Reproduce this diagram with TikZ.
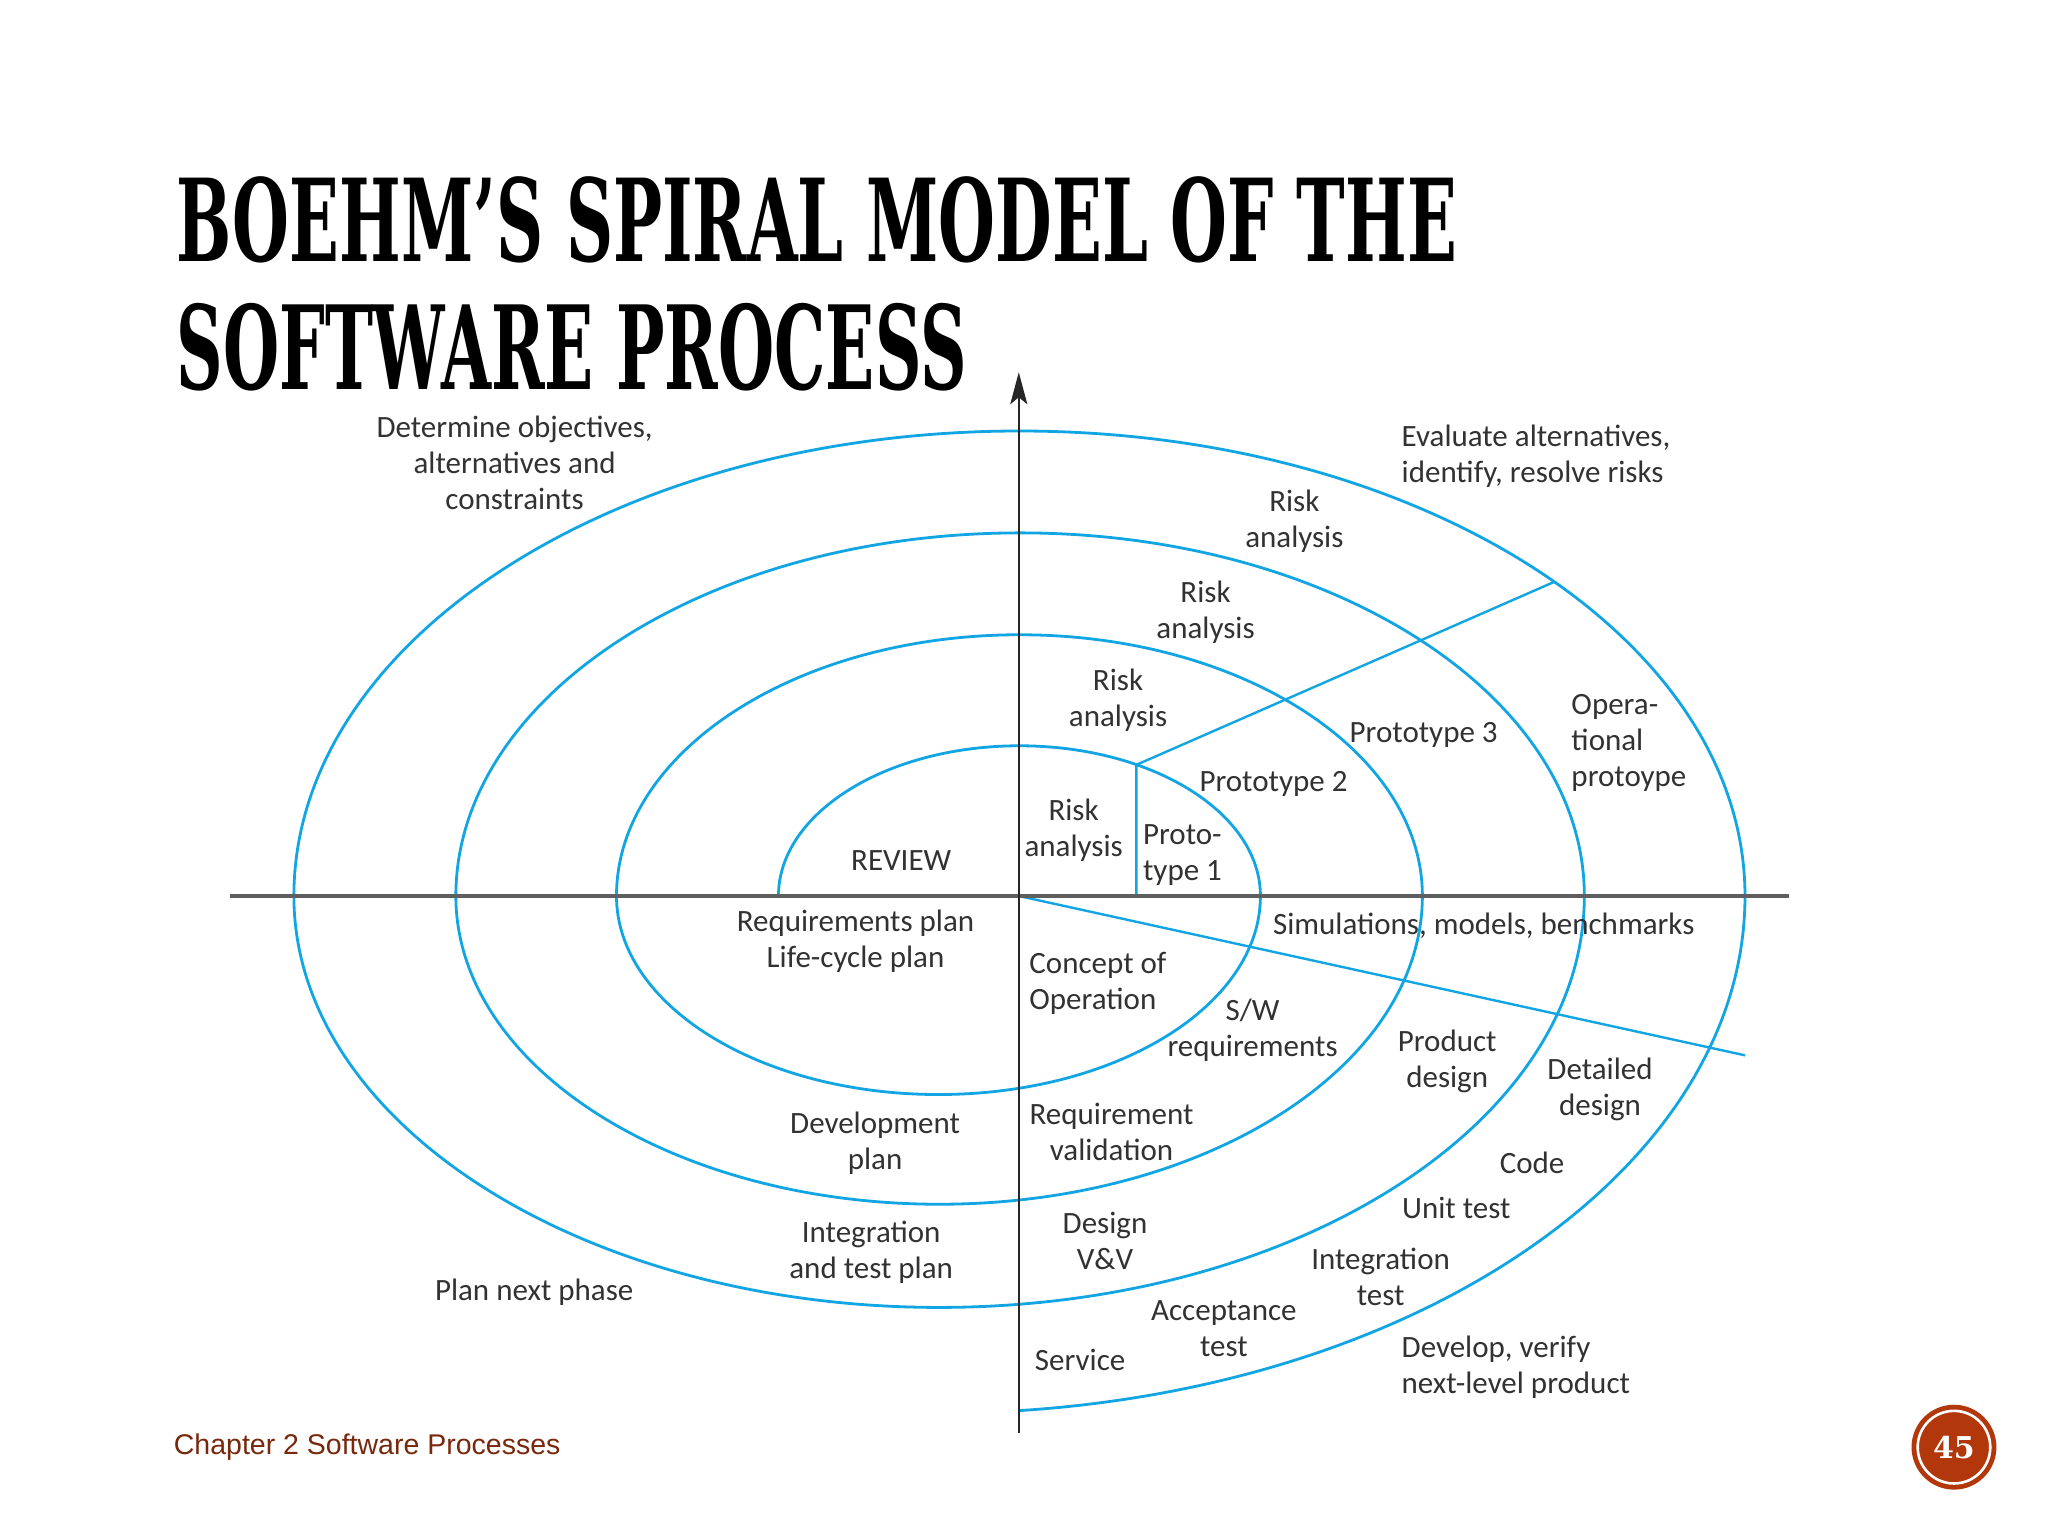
\documentclass[tikz,border=0pt]{standalone}
\usepackage{fontspec}
\usepackage{graphicx}
\setmainfont{Carlito}
\newfontfamily\titlefont{DejaVu Serif}
\newfontfamily\footfont{Liberation Sans}
\usetikzlibrary{arrows.meta}
\definecolor{spiralblue}{RGB}{18,165,228}
\definecolor{labelgray}{RGB}{50,50,50}
\definecolor{axisgray}{RGB}{95,95,95}
\definecolor{footbrown}{RGB}{120,40,12}
\definecolor{badgered}{RGB}{178,56,12}
\newdimen\uu \uu=1.3061pt
\begin{document}
\begin{tikzpicture}[x=1.3061pt,y=1.3061pt,
  lbl/.style={font=\fontsize{31}{36}\selectfont, text=labelgray, align=center, inner sep=0pt},
  lbll/.style={lbl, align=left, anchor=west},
  spiral/.style={draw=spiralblue, line width=2.8pt},
  bluel/.style={draw=spiralblue, line width=2.4pt},
  haxis/.style={draw=axisgray, line width=4.2pt},
  vaxis/.style={draw=black!85, line width=2.5pt, -{Stealth[length=32pt,width=17pt,inset=7pt]}},
  titlestyle/.style={anchor=base west, inner sep=0pt, text=black}]
\fill[white] (0,0) rectangle (1568,1176);
\useasboundingbox (0,0) rectangle (1568,1176);

% title
\node[titlestyle] (t1) at (135,976) {\resizebox{980\uu}{65\uu}{\titlefont\bfseries BOEHM’S SPIRAL MODEL OF THE}};
\node[titlestyle] (t2) at (135,878) {\resizebox{605\uu}{66\uu}{\titlefont\bfseries SOFTWARE PROCESS}};

% spiral
\draw[spiral] (596,490) arc[start angle=180,end angle=0,x radius=184.5,y radius=115]
  arc[start angle=0,end angle=-180,x radius=246.5,y radius=152]
  arc[start angle=180,end angle=0,x radius=308.5,y radius=200]
  arc[start angle=0,end angle=-180,x radius=370,y radius=236]
  arc[start angle=180,end angle=0,x radius=432,y radius=278]
  arc[start angle=0,end angle=-180,x radius=494,y radius=315]
  arc[start angle=180,end angle=0,x radius=555.5,y radius=356]
  arc[start angle=0,end angle=-84.3,x radius=617,y radius=396];

% coordinates
\coordinate (O) at (780,490);
\coordinate (P1b) at (870,490);
\coordinate (P1t) at (870,590.4);
\coordinate (D1) at (1190,730.5);
\coordinate (D2) at (1336,368);
\coordinate (HL) at (176,490);
\coordinate (HR) at (1370,490);
\coordinate (VB) at (780,79);
\coordinate (VT) at (780,891);

% blue dividers
\draw[bluel] (P1b) -- (P1t) -- (D1);
\draw[bluel] (O) -- (D2);

% axes
\draw[haxis] (HL) -- (HR);
\draw[vaxis] (VB) -- (VT);

% labels
\node[lbl] (detobj) at (394,821.5) {Determine objectives,\\alternatives and\\constraints};
\node[lbll] (evalalt) at (1073,826.5) {Evaluate alternatives,\\identify, resolve risks};
\node[lbl] (ra4) at (991,777) {Risk\\analysis};
\node[lbl] (ra3) at (923,707.5) {Risk\\analysis};
\node[lbl] (ra2) at (856,639.5) {Risk\\analysis};
\node[lbl] (ra1) at (822,540) {Risk\\analysis};
\node[lbll] (proto1) at (875,521.5) {Proto-\\type 1};
\node[lbl] (proto2) at (975,576) {Prototype 2};
\node[lbl] (proto3) at (1090,613) {Prototype 3};
\node[lbll] (opproto) at (1203,607.5) {Opera-\\tional\\protoype};
\node[lbl] (review) at (690,517) {REVIEW};
\node[lbl] (reqplan) at (655,455) {Requirements plan\\Life-cycle plan};
\node[lbll] (concept) at (788,423) {Concept of\\Operation};
\node[lbl] (swreq) at (959,387) {S/W\\requirements};
\node[lbl] (sims) at (1136,467) {Simulations, models, benchmarks};
\node[lbl] (proddes) at (1108,363) {Product\\design};
\node[lbl] (detdes) at (1225,342) {Detailed\\design};
\node[lbl] (devplan) at (670,300.5) {Development\\plan};
\node[lbl] (reqval) at (851,309) {Requirement\\validation};
\node[lbl] (code) at (1173,286) {Code};
\node[lbl] (unittest) at (1115,251) {Unit test};
\node[lbl] (inttestplan) at (667,217) {Integration\\and test plan};
\node[lbl] (designvv) at (846,226) {Design\\V\&V};
\node[lbl] (inttest) at (1057,198) {Integration\\test};
\node[lbl] (plannext) at (409,187) {Plan next phase};
\node[lbl] (acctest) at (937,158.5) {Acceptance\\test};
\node[lbl] (service) at (827,135) {Service};
\node[lbll] (develop) at (1073,129) {Develop, verify\\next-level product};

% footer
\node[anchor=west, inner sep=0pt, text=footbrown, font=\footfont\fontsize{28.5}{30}\selectfont] (foot) at (133,68) {Chapter 2 Software Processes};
\node[circle, fill=badgered, minimum size=65\uu, inner sep=0pt] (badge) at (1496,68) {};
\draw[white, line width=2.6pt] (badge.center) circle[radius=27.8];
\node[text=white, inner sep=0pt, font=\titlefont\bfseries\fontsize{30}{30}\selectfont] (pnum) at (badge.center) {45};
\end{tikzpicture}
\end{document}
